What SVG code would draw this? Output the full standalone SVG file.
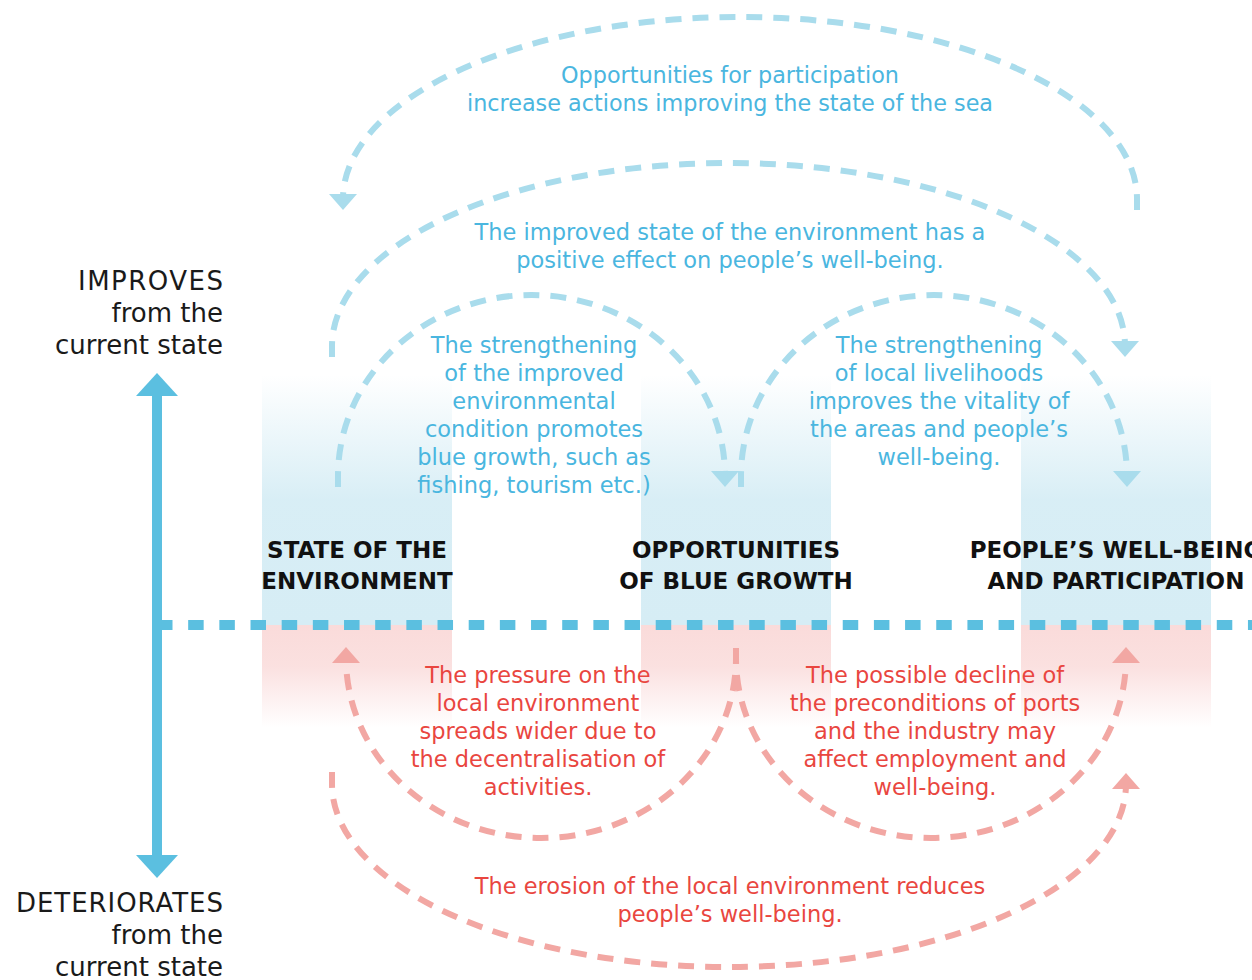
<svg xmlns="http://www.w3.org/2000/svg" width="1252" height="980" viewBox="0 0 1252 980">
  <style>
    text { font-family: "DejaVu Sans", "Liberation Sans", sans-serif; }
    .axis-label { font-size: 26px; fill: #1a1a1a; text-anchor: end; }
    .node-label { font-size: 23px; font-weight: bold; fill: #111111; text-anchor: middle; }
    .up-text { font-size: 22.5px; fill: #4ab6df; text-anchor: middle; }
    .top-text { font-size: 22.3px; }
    .down-text { font-size: 22.5px; fill: #e9463f; text-anchor: middle; }
    .loop-up { fill: none; stroke: #a9dcec; stroke-width: 6; stroke-dasharray: 16 11; marker-end: url(#head-blue); }
    .loop-down { fill: none; stroke: #f2a7a3; stroke-width: 6; stroke-dasharray: 16 11; marker-end: url(#head-red); }
    .col-up { fill: url(#fade-blue); }
    .col-down { fill: url(#fade-red); }
  </style>
  <defs>
    <linearGradient id="fade-blue" x1="0" y1="0" x2="0" y2="1">
      <stop offset="0" stop-color="#d6edf5" stop-opacity="0"/>
      <stop offset="0.5" stop-color="#d6edf5" stop-opacity="0.95"/>
      <stop offset="1" stop-color="#d6edf5" stop-opacity="1"/>
    </linearGradient>
    <linearGradient id="fade-red" x1="0" y1="0" x2="0" y2="1">
      <stop offset="0" stop-color="#fadbda" stop-opacity="1"/>
      <stop offset="0.4" stop-color="#fadbda" stop-opacity="0.85"/>
      <stop offset="1" stop-color="#fadbda" stop-opacity="0"/>
    </linearGradient>
    <marker id="head-blue" markerUnits="userSpaceOnUse" viewBox="0 0 16 28" markerWidth="16" markerHeight="28" refX="5" refY="14" orient="auto">
      <path d="M0,0 L16,14 L0,28 Z" fill="#a9dcec"/>
    </marker>
    <marker id="head-red" markerUnits="userSpaceOnUse" viewBox="0 0 16 28" markerWidth="16" markerHeight="28" refX="5" refY="14" orient="auto">
      <path d="M0,0 L16,14 L0,28 Z" fill="#f2a7a3"/>
    </marker>
  </defs>

  <!-- columns (nodes) -->
  <g id="node-environment">
    <rect class="col-up" x="262" y="375" width="190" height="250"/>
    <rect class="col-down" x="262" y="625" width="190" height="102"/>
    <text class="node-label" x="357" y="558">STATE OF THE</text>
    <text class="node-label" x="357" y="589">ENVIRONMENT</text>
  </g>
  <g id="node-blue-growth">
    <rect class="col-up" x="641" y="375" width="190" height="250"/>
    <rect class="col-down" x="641" y="625" width="190" height="102"/>
    <text class="node-label" x="736" y="558">OPPORTUNITIES</text>
    <text class="node-label" x="736" y="589">OF BLUE GROWTH</text>
  </g>
  <g id="node-wellbeing">
    <rect class="col-up" x="1021" y="375" width="190" height="250"/>
    <rect class="col-down" x="1021" y="625" width="190" height="102"/>
    <text class="node-label" x="1116" y="558">PEOPLE’S WELL-BEING</text>
    <text class="node-label" x="1116" y="589">AND PARTICIPATION</text>
  </g>

  <!-- vertical scale and current-state baseline -->
  <g id="axis">
    <line x1="157" y1="625" x2="1252" y2="625" stroke="#5bbfe0" stroke-width="10" stroke-dasharray="15.5 15.67"/>
    <line x1="157" y1="396" x2="157" y2="855" stroke="#5bbfe0" stroke-width="10"/>
    <path d="M136,396 L157,373 L178,396 Z" fill="#5bbfe0"/>
    <path d="M136,855 L157,878 L178,855 Z" fill="#5bbfe0"/>
    <text class="axis-label" x="223" y="290" textLength="145" lengthAdjust="spacing">IMPROVES</text>
    <text class="axis-label" x="223" y="322">from the</text>
    <text class="axis-label" x="223" y="354">current state</text>
    <text class="axis-label" x="223" y="912" textLength="207" lengthAdjust="spacing">DETERIORATES</text>
    <text class="axis-label" x="223" y="944">from the</text>
    <text class="axis-label" x="223" y="976">current state</text>
  </g>

  <!-- feedback loops -->
  <g id="connectors">
    <path class="loop-up" d="M1137,210 L1137,199 A397,182 0 0 0 343,199"/>
    <path class="loop-up" d="M332,357 L332,346 A396.5,183 0 0 1 1125,346"/>
    <path class="loop-up" d="M338,487 L338,476 A193.5,181 0 0 1 725,476"/>
    <path class="loop-up" d="M741,487 L741,476 A193,181 0 0 1 1127,476"/>
    <path class="loop-down" d="M736,648 L736,658 A195,180 0 0 1 346,658"/>
    <path class="loop-down" d="M736,648 L736,658 A195,180 0 0 0 1126,658"/>
    <path class="loop-down" d="M332,772 L332,784 A397,183 0 0 0 1126,784"/>
  </g>

  <!-- loop descriptions -->
  <g id="loop-labels">
    <text class="up-text top-text" x="730" y="83">Opportunities for participation</text>
    <text class="up-text top-text" x="730" y="111">increase actions improving the state of the sea</text>
    <text class="up-text" x="730" y="240">The improved state of the environment has a</text>
    <text class="up-text" x="730" y="268">positive effect on people’s well-being.</text>

    <text class="up-text" x="534" y="353">The strengthening</text>
    <text class="up-text" x="534" y="381">of the improved</text>
    <text class="up-text" x="534" y="409">environmental</text>
    <text class="up-text" x="534" y="437">condition promotes</text>
    <text class="up-text" x="534" y="465">blue growth, such as</text>
    <text class="up-text" x="534" y="493">fishing, tourism etc.)</text>

    <text class="up-text" x="939" y="353">The strengthening</text>
    <text class="up-text" x="939" y="381">of local livelihoods</text>
    <text class="up-text" x="939" y="409">improves the vitality of</text>
    <text class="up-text" x="939" y="437">the areas and people’s</text>
    <text class="up-text" x="939" y="465">well-being.</text>

    <text class="down-text" x="538" y="683">The pressure on the</text>
    <text class="down-text" x="538" y="711">local environment</text>
    <text class="down-text" x="538" y="739">spreads wider due to</text>
    <text class="down-text" x="538" y="767">the decentralisation of</text>
    <text class="down-text" x="538" y="795">activities.</text>

    <text class="down-text" x="935" y="683">The possible decline of</text>
    <text class="down-text" x="935" y="711">the preconditions of ports</text>
    <text class="down-text" x="935" y="739">and the industry may</text>
    <text class="down-text" x="935" y="767">affect employment and</text>
    <text class="down-text" x="935" y="795">well-being.</text>

    <text class="down-text" x="730" y="894">The erosion of the local environment reduces</text>
    <text class="down-text" x="730" y="922">people’s well-being.</text>
  </g>
</svg>
